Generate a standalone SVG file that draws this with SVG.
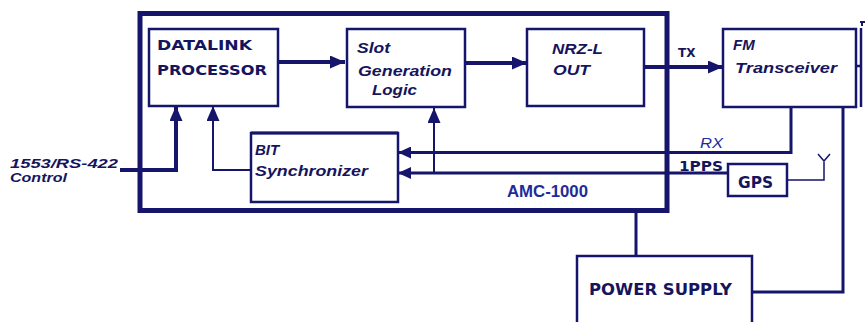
<svg xmlns="http://www.w3.org/2000/svg" width="865" height="322" viewBox="0 0 865 322">
<style>
.box{fill:#fff;stroke:#15156b;stroke-width:2.5}
.c{fill:none;stroke:#15156b}
.th{stroke-width:4}
.md{stroke-width:3}
.tn{stroke-width:2}
.sans{font-family:"DejaVu Sans","Liberation Sans",sans-serif;font-weight:bold;fill:#15155e}
.it{font-family:"Liberation Sans",Arial,sans-serif;font-weight:bold;font-style:italic;fill:#15155e}
.blue{font-family:"Liberation Sans",Arial,sans-serif;font-weight:bold;fill:#1e2c98}
</style>
<defs>
<marker id="ah" viewBox="0 0 15 13" refX="15" refY="6.5" markerWidth="15" markerHeight="13" markerUnits="userSpaceOnUse" orient="auto">
<path d="M0,0 L15,6.5 L0,13 z" fill="#15156b"/>
</marker>
<marker id="as" viewBox="0 0 13 12" refX="13" refY="6" markerWidth="13" markerHeight="12" markerUnits="userSpaceOnUse" orient="auto">
<path d="M0,0 L13,6 L0,12 z" fill="#15156b"/>
</marker>
</defs>
<rect width="865" height="322" fill="#fff"/>

<g id="amc1000">
<rect x="140" y="13.5" width="527" height="197" fill="none" stroke="#15156b" stroke-width="5"/>
<text class="blue" x="507" y="197" font-size="16" textLength="81" lengthAdjust="spacingAndGlyphs">AMC-1000</text>
</g>

<g id="connectors">
<path class="c th" d="M278,62 H345" marker-end="url(#ah)"/>
<path class="c th" d="M465,63 H527" marker-end="url(#ah)"/>
<path class="c th" d="M644,67 H723" marker-end="url(#ah)"/>
<path class="c th" d="M120,170 H176 V106" marker-end="url(#ah)"/>
<path class="c tn" d="M251,170 H213 V106" marker-end="url(#ah)"/>
<path class="c tn" d="M434,173 V108" marker-end="url(#ah)"/>
<path class="c md" d="M791,107 V152.5 H398" marker-end="url(#as)"/>
<path class="c md" d="M728,173 H398" marker-end="url(#as)"/>
<path class="c" stroke-width="1.5" stroke="#333" d="M787,180 H824 V162 M818,154 L824,161 L830,154"/>
<path class="c md" d="M636,210 V256"/>
<path class="c md" d="M752,292 H843 V107"/>
<path class="c" stroke-width="2.5" d="M856,66 H861 M861,28 V107"/>
<path class="c" stroke-width="2" d="M862,22 V26 M860,22 H865"/>
</g>

<g id="datalink">
<rect class="box" x="149" y="29" width="129" height="77"/>
<text class="sans" x="157" y="50" font-size="13.5" textLength="95" lengthAdjust="spacingAndGlyphs">DATALINK</text>
<text class="sans" x="157" y="75" font-size="13.5" textLength="110" lengthAdjust="spacingAndGlyphs">PROCESSOR</text>
</g>

<g id="slotgen">
<rect class="box" x="347" y="29" width="118" height="78"/>
<text class="it" x="357" y="53" font-size="14" textLength="33" lengthAdjust="spacingAndGlyphs">Slot</text>
<text class="it" x="358" y="76" font-size="14" textLength="94" lengthAdjust="spacingAndGlyphs">Generation</text>
<text class="it" x="372" y="95" font-size="14" textLength="45" lengthAdjust="spacingAndGlyphs">Logic</text>
</g>

<g id="nrzl">
<rect class="box" x="527" y="29" width="117" height="77"/>
<text class="it" x="552" y="54" font-size="14" textLength="51" lengthAdjust="spacingAndGlyphs">NRZ-L</text>
<text class="it" x="553" y="75" font-size="15" textLength="37" lengthAdjust="spacingAndGlyphs">OUT</text>
</g>

<g id="fm">
<rect class="box" x="723" y="29" width="133" height="78"/>
<text class="it" x="733" y="50" font-size="15">FM</text>
<text class="it" x="735" y="73" font-size="14" textLength="102" lengthAdjust="spacingAndGlyphs">Transceiver</text>
</g>

<g id="bitsync">
<rect class="box" x="251" y="133" width="147" height="69"/>
<path class="c md" d="M251,133 H398"/>
<text class="it" x="255" y="155" font-size="15">BIT</text>
<text class="it" x="255" y="176" font-size="14" textLength="113" lengthAdjust="spacingAndGlyphs">Synchronizer</text>
</g>

<g id="gps">
<rect class="box" x="728" y="164" width="59" height="32"/>
<text class="sans" x="738" y="188" font-size="15" textLength="35" lengthAdjust="spacingAndGlyphs">GPS</text>
</g>

<g id="powersupply">
<rect class="box" x="577" y="256" width="175" height="80"/>
<text class="sans" x="589" y="295" font-size="15.5" textLength="143" lengthAdjust="spacingAndGlyphs">POWER SUPPLY</text>
</g>

<g id="labels">
<text class="it" x="10" y="168" font-size="13.5" textLength="108" lengthAdjust="spacingAndGlyphs">1553/RS-422</text>
<text class="it" x="10" y="182" font-size="13.5" textLength="57" lengthAdjust="spacingAndGlyphs">Control</text>
<text class="sans" x="678" y="57" font-size="12">TX</text>
<text x="700" y="148" font-family="Liberation Sans, Arial, sans-serif" font-style="italic" font-size="15" fill="#1e2c98" textLength="23" lengthAdjust="spacingAndGlyphs">RX</text>
<text class="sans" x="679" y="171" font-size="14" textLength="44" lengthAdjust="spacingAndGlyphs">1PPS</text>
</g>
</svg>
